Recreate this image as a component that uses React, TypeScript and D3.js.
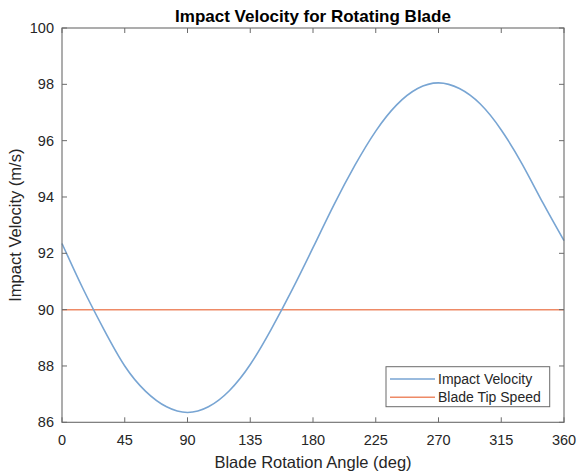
import React from "react";
import * as d3 from "d3";

const angles = [0, 15, 30, 45, 60, 75, 90, 105, 120, 135, 150, 165, 180, 195, 210, 225, 240, 255, 270, 285, 300, 315, 330, 345, 360];
const impactVelocity = [92.35, 90.75, 89.3, 88.0, 87.1, 86.55, 86.35, 86.55, 87.12, 88.05, 89.3, 90.7, 92.2, 93.72, 95.12, 96.34, 97.27, 97.85, 98.05, 97.85, 97.3, 96.38, 95.17, 93.78, 92.45];
const tipAngles = [0, 360];
const bladeTipSpeed = [90, 90];
const xTicks = [0, 45, 90, 135, 180, 225, 270, 315, 360];
const yTicks = [86, 88, 90, 92, 94, 96, 98, 100];

const W = 577;
const H = 474;
const L = 62, R = 564, T = 28, B = 422.3;
const font = "'Liberation Sans', Arial, Helvetica, sans-serif";
const axisColor = "#6b6b6b";
const textColor = "#262626";
const blue = "#78a5d3";
const red = "#ee8a66";

export default function App() {
  const x = d3.scaleLinear().domain([0, 360]).range([L, R]);
  const y = d3.scaleLinear().domain([86, 100]).range([B, T]);
  const line = d3
    .line<number>()
    .x((_, i) => x(angles[i]))
    .y((d) => y(d))
    .curve(d3.curveNatural);
  const tipLine = d3
    .line<number>()
    .x((_, i) => x(tipAngles[i]))
    .y((d) => y(d));
  const tl = 5;
  return (
    <svg width={W} height={H} style={{ position: "absolute", left: 0, top: 0, background: "#fff" }}>
      <rect x={0} y={0} width={W} height={H} fill="#fff" />
      <path d={tipLine(bladeTipSpeed) || ""} fill="none" stroke={red} strokeWidth={1.5} />
      <path d={line(impactVelocity) || ""} fill="none" stroke={blue} strokeWidth={1.6} />
      {/* box */}
      <rect x={L} y={T} width={R - L} height={B - T} fill="none" stroke={axisColor} strokeWidth={1.1} />
      {xTicks.map((t) => (
        <g key={"x" + t}>
          <line x1={x(t)} x2={x(t)} y1={B} y2={B - tl} stroke={axisColor} strokeWidth={1} />
          <line x1={x(t)} x2={x(t)} y1={T} y2={T + tl} stroke={axisColor} strokeWidth={1} />
          <text x={x(t)} y={445} textAnchor="middle" fontFamily={font} fontSize={14.5} fill={textColor}>
            {t}
          </text>
        </g>
      ))}
      {yTicks.map((t) => (
        <g key={"y" + t}>
          <line x1={L} x2={L + tl} y1={y(t)} y2={y(t)} stroke={axisColor} strokeWidth={1} />
          <line x1={R} x2={R - tl} y1={y(t)} y2={y(t)} stroke={axisColor} strokeWidth={1} />
          <text x={54} y={y(t) + 5} textAnchor="end" fontFamily={font} fontSize={14.5} fill={textColor}>
            {t}
          </text>
        </g>
      ))}
      <text x={(L + R) / 2} y={22} textAnchor="middle" fontFamily={font} fontSize={17} fontWeight="bold" fill="#000">
        Impact Velocity for Rotating Blade
      </text>
      <text x={(L + R) / 2} y={468} textAnchor="middle" fontFamily={font} fontSize={16.5} fill={textColor}>
        Blade Rotation Angle (deg)
      </text>
      <text
        transform={`translate(21, ${(T + B) / 2}) rotate(-90)`}
        textAnchor="middle"
        fontFamily={font}
        fontSize={16.5}
        fill={textColor}
      >
        Impact Velocity (m/s)
      </text>
      {/* legend */}
      <rect x={386} y={366.7} width={163.7} height={40} fill="#fff" stroke={axisColor} strokeWidth={1} />
      <line x1={390} x2={435} y1={379} y2={379} stroke={blue} strokeWidth={1.6} />
      <line x1={390} x2={435} y1={397.3} y2={397.3} stroke={red} strokeWidth={1.5} />
      <text x={438} y={384} fontFamily={font} fontSize={14} fill={textColor}>
        Impact Velocity
      </text>
      <text x={438} y={402.3} fontFamily={font} fontSize={14} fill={textColor}>
        Blade Tip Speed
      </text>
    </svg>
  );
}
